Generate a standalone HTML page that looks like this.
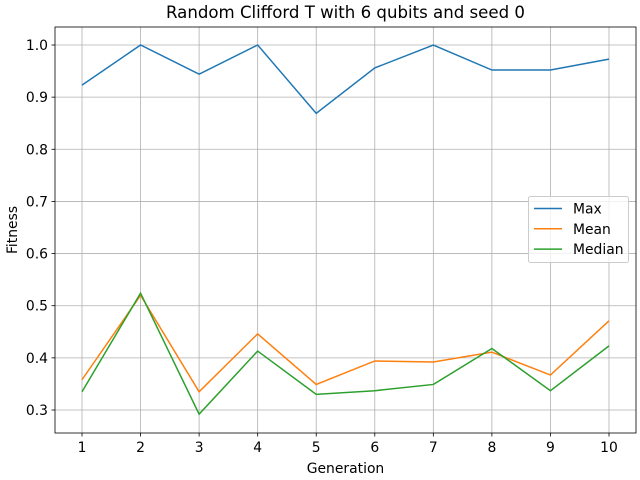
<!DOCTYPE html>
<html><head><meta charset="utf-8"><style>body{margin:0;background:#fff}svg{display:block;font-family:"DejaVu Sans","Liberation Sans",sans-serif}</style></head>
<body>
<svg id="c" width="640" height="480"></svg>
<script>
const generations=[1,2,3,4,5,6,7,8,9,10];
const maxVals=[0.923,1.0,0.944,1.0,0.869,0.956,1.0,0.952,0.952,0.973];
const meanVals=[0.358,0.52,0.335,0.446,0.349,0.394,0.392,0.411,0.367,0.471];
const medianVals=[0.335,0.524,0.292,0.413,0.330,0.337,0.349,0.418,0.337,0.423];
const yTicks=[0.3,0.4,0.5,0.6,0.7,0.8,0.9,1.0];
const seriesNames=["Max","Mean","Median"];
const colors=["#1f77b4","#ff7f0e","#2ca02c"];
const L=55,R=636,T=27,B=433;
const xs=g=>82+(g-1)*(609-82)/9;
const ys=v=>410-(v-0.3)*(410-45)/0.7;
const NS="http://www.w3.org/2000/svg",svg=document.getElementById('c');
function el(t,a,txt){const e=document.createElementNS(NS,t);for(const k in a)e.setAttribute(k,a[k]);if(txt!=null)e.textContent=txt;svg.appendChild(e);return e;}
generations.forEach(g=>{
 const l=el('line',{x1:xs(g),x2:xs(g),y1:T,y2:B,stroke:'#b0b0b0','stroke-width':0.8});
 
 
 el('line',{x1:xs(g),x2:xs(g),y1:B,y2:B+3.5,stroke:'#000','stroke-width':0.8});
 const t=el('text',{x:xs(g),y:B+19,'text-anchor':'middle','font-size':13.9},g);
 
 
});
yTicks.forEach(v=>{
 const l=el('line',{x1:L,x2:R,y1:ys(v),y2:ys(v),stroke:'#b0b0b0','stroke-width':0.8});
 
 
 el('line',{x1:L-3.5,x2:L,y1:ys(v),y2:ys(v),stroke:'#000','stroke-width':0.8});
 const t=el('text',{x:L-7,y:ys(v)+5,'text-anchor':'end','font-size':13.9},v.toFixed(1));
 
 
});
[maxVals,meanVals,medianVals].forEach((arr,i)=>{
 const p=el('polyline',{points:arr.map((v,j)=>xs(generations[j])+','+ys(v)).join(' '),fill:'none',stroke:colors[i],'stroke-width':1.5});
 
 
});
const fr=el('rect',{x:L,y:T,width:R-L,height:B-T,fill:'none',stroke:'#000','stroke-width':0.8});


const tt=el('text',{x:(L+R)/2,y:18,'text-anchor':'middle','font-size':16.6},'Random Clifford T with 6 qubits and seed 0');


const xt=el('text',{x:(L+R)/2,y:473,'text-anchor':'middle','font-size':13.9},'Generation');


const yt=el('text',{x:17,y:(T+B)/2,'text-anchor':'middle','font-size':13.9,transform:'rotate(-90 17 '+(T+B)/2+')'},'Fitness');


const lb=el('rect',{x:528.5,y:196.5,width:100,height:66,rx:2,fill:'#fff','fill-opacity':0.8,stroke:'#ccc'});


seriesNames.forEach((n,i)=>{
 const y=208.5+i*20.3;
 el('line',{x1:534,x2:562,y1:y,y2:y,stroke:colors[i],'stroke-width':1.5});
 const t=el('text',{x:573,y:y+5,'font-size':13.9},n);
 
 
});
</script>
</body></html>
